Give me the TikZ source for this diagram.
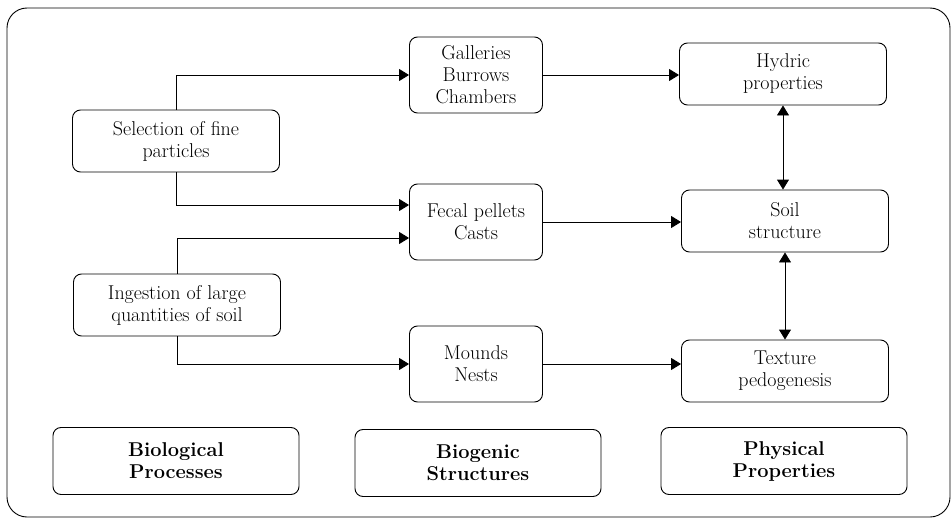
\documentclass[tikz,border=0pt]{standalone}
\usepackage{fontspec}
\usepackage{tikz}
\usetikzlibrary{arrows.meta,positioning}
\tikzstyle{box} = [draw, rounded corners=8pt, align=center, inner sep=0pt, line width=0.9pt, font=\fontsize{20}{22}\selectfont]
\tikzstyle{wide} = [box, minimum width=207pt, minimum height=62pt]
\tikzstyle{narrow} = [box, minimum width=133pt, minimum height=76pt]
\tikzstyle{head} = [box, minimum width=246pt, minimum height=67pt, font=\fontsize{20}{22}\selectfont\bfseries]
\tikzstyle{arrow} = [line width=0.9pt, -{Triangle[length=10pt,width=12pt]}]
\tikzstyle{twoway} = [line width=0.9pt, {Triangle[length=10pt,width=12pt]}-{Triangle[length=10pt,width=12pt]}]

\begin{document}
\begin{tikzpicture}[x=1pt,y=1pt]
\useasboundingbox (0,0) rectangle (951,-519);
% Frame
\draw[line width=0.9pt, rounded corners=20pt] (7,-8) rectangle (950,-517);

% Processes
\node[wide] (sel) at (176,-141) {Selection of fine\\particles};
\node[wide] (ing) at (177,-305) {Ingestion of large\\quantities of soil};

% Structures
\node[narrow] (gal) at (476,-75) {Galleries\\Burrows\\Chambers};
\node[narrow] (fec) at (476,-222) {Fecal pellets\\Casts};
\node[narrow] (mou) at (476,-364) {Mounds\\Nests};

% Properties
\node[wide] (hyd) at (783,-74) {Hydric\\properties};
\node[wide] (soil) at (785,-221) {Soil\\structure};
\node[wide] (tex) at (785,-371) {Texture\\pedogenesis};

% Headings
\node[head] (bio) at (176,-461) {Biological\\Processes};
\node[head] (bgs) at (478,-463) {Biogenic\\Structures};
\node[head] (phy) at (784,-461) {Physical\\Properties};

% Arrows
\draw[arrow] (sel.north) |- (gal.west);
\draw[arrow] (sel.south) |- ([yshift=17pt]fec.west);
\draw[arrow] (ing.north) |- ([yshift=-16pt]fec.west);
\draw[arrow] (ing.south) |- (mou.west);
\draw[arrow] (gal.east) -- (gal.east -| hyd.west);
\draw[arrow] (fec.east) -- (fec.east -| soil.west);
\draw[arrow] (mou.east) -- (mou.east -| tex.west);
\draw[twoway] (hyd.south) -- (hyd.south |- soil.north);
\draw[twoway] (soil.south) -- (soil.south |- tex.north);
\end{tikzpicture}
\end{document}
